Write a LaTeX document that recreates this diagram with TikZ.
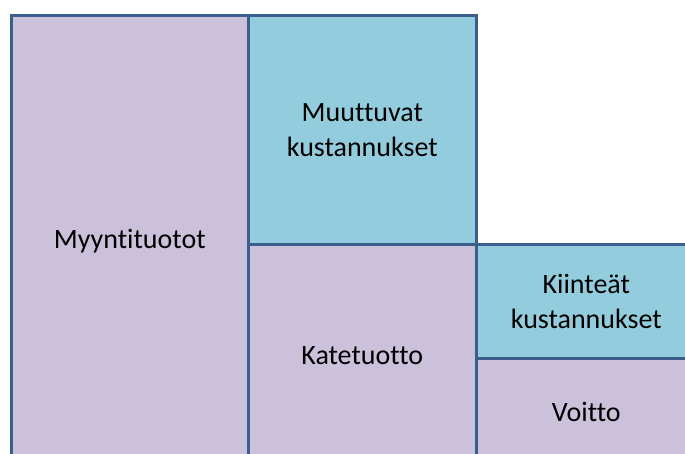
\documentclass[tikz,border=0pt]{standalone}
\usepackage{fontspec}
\setmainfont{Carlito}[Ligatures=NoCommon]
\usepackage{xcolor}
\usetikzlibrary{positioning}
\definecolor{lila}{HTML}{CCC1DA}
\definecolor{sini}{HTML}{93CDDD}
\definecolor{reuna}{HTML}{3C5E8D}

\begin{document}
\begin{tikzpicture}[
  x=1pt, y=-1pt,
  font=\fontsize{28}{35}\selectfont,
  box/.style={draw=reuna, line width=2.6pt, align=center, inner sep=0pt,
              anchor=north west},
  tuotto/.style={box, fill=lila},
  kust/.style={box, fill=sini}
]
\useasboundingbox (0,0) rectangle (685,454);
\clip (0,0) rectangle (685,454);
\node[tuotto, minimum width=237pt, minimum height=452pt] at (10,14)   (myynti) {Myyntituotot};
\node[kust,   minimum width=228pt, minimum height=229pt] at (247,14)  (muutt)  {Muuttuvat\\kustannukset};
\node[tuotto, minimum width=228pt, minimum height=222pt] at (247,243) (kate)   {Katetuotto};
\node[kust,   minimum width=220pt, minimum height=114pt] at (475,243) (kiint)  {Kiinteät\\kustannukset};
\node[tuotto, minimum width=220pt, minimum height=108pt] at (475,357) (voitto) {Voitto};
\end{tikzpicture}
\end{document}
